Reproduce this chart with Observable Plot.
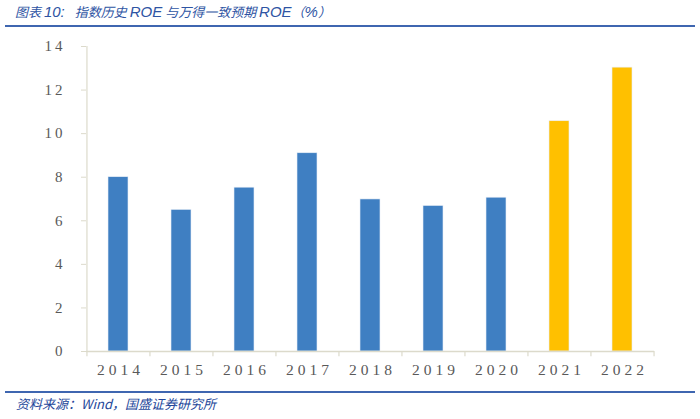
<!DOCTYPE html>
<html><head><meta charset="utf-8">
<script src="https://cdn.jsdelivr.net/npm/d3@7"></script>
<script src="https://cdn.jsdelivr.net/npm/@observablehq/plot@0.6"></script>
<style>
body{margin:0;background:#fff;width:700px;height:419px;overflow:hidden;position:relative;}
#title{position:absolute;left:15px;top:2px;font-family:"Noto Sans CJK SC","Liberation Sans",sans-serif;font-style:italic;font-size:13px;color:#2e54a3;white-space:nowrap;line-height:20px;}
#title .l{font-family:"Liberation Sans",sans-serif;font-size:15px;}
#title .sp{display:inline-block;width:10px;}
#tline{position:absolute;left:5px;top:25px;width:690px;height:2px;background:#3f66b0;}
#chart{position:absolute;left:0;top:30px;}
#cline{position:absolute;left:5px;top:391px;width:690px;height:2px;background:#3f66b0;}
#caption{position:absolute;left:16px;top:394px;font-family:"Noto Sans CJK SC","Liberation Sans",sans-serif;font-style:italic;font-size:13px;color:#24479a;white-space:nowrap;}
#chart g[aria-label="x-axis tick label"] text{letter-spacing:4px;}
#chart g[aria-label="y-axis tick label"] text{letter-spacing:3px;}
</style></head>
<body>
<div id="title">图表 <span class="l">10:</span><span class="sp"></span>指数历史 <span class="l">ROE</span> 与万得一致预期 <span class="l">ROE</span>（<span class="l">%</span>）</div>
<div id="tline"></div>
<div id="chart"></div>
<div id="cline"></div>
<div id="caption">资料来源：Wind，国盛证券研究所</div>
<script>
const years = ["2014","2015","2016","2017","2018","2019","2020","2021","2022"];
const roe = [8.0, 6.5, 7.52, 9.1, 6.98, 6.68, 7.06, 10.57, 13.03];
const kind = ["历史","历史","历史","历史","历史","历史","历史","预期","预期"];
const yTicks = [0,2,4,6,8,10,12,14];

const data = years.map((y,i)=>({year:y, roe:roe[i], kind:kind[i]}));
const W = 700, H = 360, mL = 86, mR = 46;
const step = (W - mL - mR) / years.length;
const axisColor = "#dcdacb";

const chart = Plot.plot({
  width: W, height: H,
  marginLeft: mL, marginRight: mR, marginTop: 16, marginBottom: 39,
  style: {fontFamily: "'Liberation Serif', 'DejaVu Serif', serif", fontSize: "15px", color: "#595959", background: "#fff"},
  x: {domain: years, paddingInner: 0.68, paddingOuter: 0.34},
  y: {domain: [0, 14]},
  color: {domain: ["历史","预期"], range: ["#3f7fc2", "#ffc000"]},
  marks: [
    Plot.barY(data, {x: "year", y: "roe", fill: "kind", stroke: "#e8eef7", strokeWidth: 0.6}),
    Plot.ruleY([0], {stroke: axisColor, strokeWidth: 1.3}),
    Plot.ruleX(years, {x: d => d, dx: -step/2, y1: 0, y2: -0.24, stroke: axisColor, strokeWidth: 1.2}),
    Plot.ruleX([years[years.length-1]], {x: d => d, dx: step/2, y1: 0, y2: -0.24, stroke: axisColor, strokeWidth: 1.2}),
    Plot.ruleX([years[0]], {x: d => d, dx: -step/2, y1: 0, y2: 14, stroke: axisColor, strokeWidth: 1.2}),
    Plot.axisY(yTicks, {tickSize: 5, tickPadding: 16, stroke: axisColor, label: null, fill: "#595959", fontSize: 15}),
    Plot.axisX({tickSize: 0, tickPadding: 12, label: null, fill: "#595959", fontSize: 15.5, dx: 2})
  ]
});
document.getElementById("chart").appendChild(chart);
</script>
</body></html>
